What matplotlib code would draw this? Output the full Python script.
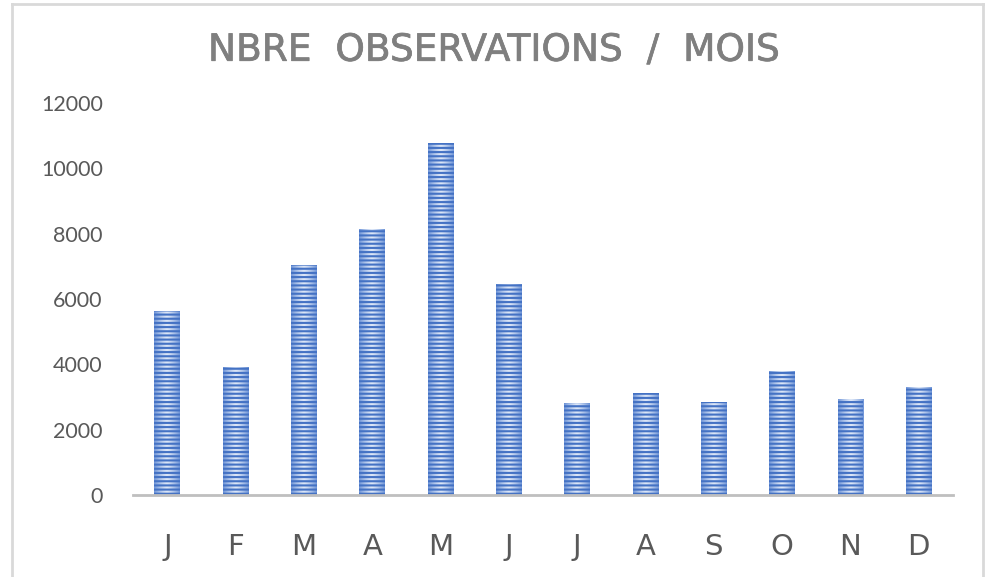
import matplotlib
matplotlib.use("Agg")
import matplotlib.pyplot as plt
import matplotlib.patheffects as pe
import numpy as np
from matplotlib.lines import Line2D

# data
months = ["J", "F", "M", "A", "M", "J", "J", "A", "S", "O", "N", "D"]
counts = [5630, 3920, 7040, 8140, 10780, 6460, 2820, 3120, 2850, 3800, 2940, 3310]
yticks = [0, 2000, 4000, 6000, 8000, 10000, 12000]

title_color = "#7F7F7F"
label_color = "#595959"
bar_dark = "#4472C4"
axis_grey = "#BFBFBF"

plt.rcParams["hatch.linewidth"] = 1.5
plt.rcParams["hatch.color"] = bar_dark

fig = plt.figure(figsize=(9.87, 5.77), dpi=100)
ax = fig.add_axes([0.135, 0.142, 0.8305, 0.6795])

x = np.arange(len(months))
bars = ax.bar(x, counts, width=0.38, color="none", edgecolor="none", zorder=2)

# soft horizontal gradient inside each bar (lighter in the middle)
grad = np.abs(np.linspace(-1, 1, 64)) ** 1.3
grad = grad[np.newaxis, :]
cmap = matplotlib.colors.LinearSegmentedColormap.from_list("g", ["#DCE6F7", "#7196D8"])
for b in bars:
    x0, w, h = b.get_x(), b.get_width(), b.get_height()
    im = ax.imshow(grad, cmap=cmap, aspect="auto", extent=(x0, x0 + w, 0, h),
                   zorder=2, interpolation="bilinear")
    im.set_clip_path(b)

# striped overlay
ax.bar(x, counts, width=0.38, color="none", edgecolor=bar_dark, linewidth=0,
       hatch="----", zorder=3)

ax.set_xlim(-0.5, len(months) - 0.5)
ax.set_ylim(0, 12000)
ax.set_yticks(yticks)
ax.set_yticklabels([str(v) for v in yticks], fontsize=15.5, color=label_color,
                   family="Lato")
ax.set_xticks(x)
ax.set_xticklabels(months, fontsize=21, color=label_color, family="DejaVu Sans")
ax.tick_params(axis="y", length=0, pad=22)
ax.tick_params(axis="x", length=0, pad=27)

for side in ["top", "right", "left"]:
    ax.spines[side].set_visible(False)
ax.spines["bottom"].set_color(axis_grey)
ax.spines["bottom"].set_linewidth(2)
ax.spines["bottom"].set_zorder(4)

fig.text(0.5, 0.912, "NBRE  OBSERVATIONS  /  MOIS", ha="center", va="center",
         fontsize=27, color=title_color, family="DejaVu Sans",
         path_effects=[pe.withStroke(linewidth=0.5, foreground=title_color)])

# outer chart frame (bottom edge is cropped in the reference)
frame = dict(color="#D9D9D9", linewidth=2, transform=fig.transFigure)
fig.add_artist(Line2D([0.012, 0.996], [0.993, 0.993], **frame))
fig.add_artist(Line2D([0.012, 0.012], [0.0, 0.993], **frame))
fig.add_artist(Line2D([0.996, 0.996], [0.0, 0.993], **frame))

fig.savefig("out.png", dpi=100, facecolor="white")
